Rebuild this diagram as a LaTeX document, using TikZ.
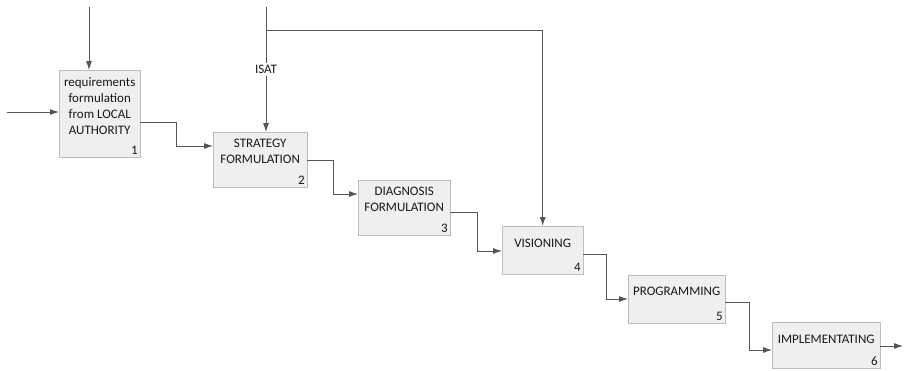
\documentclass[tikz,border=0pt]{standalone}
\usepackage{fontspec}
\setmainfont{Carlito}
\usetikzlibrary{arrows.meta}
\definecolor{boxfill}{HTML}{EFEFEF}
\definecolor{boxline}{HTML}{BDBDBD}
\definecolor{wire}{HTML}{555555}

\begin{document}
\begin{tikzpicture}[x=1pt,y=-1pt,>={Latex[length=9pt,width=6pt]},
  stage/.style={draw=boxline, fill=boxfill, anchor=north west, inner sep=0pt},
  caption/.style={align=center, text=black!90, font=\fontsize{13}{16}\selectfont},
  num/.style={anchor=south east, inner sep=2.5pt, text=black!90, font=\fontsize{13}{14}\selectfont},
  flow/.style={->, draw=wire, line width=0.8pt}]
  \useasboundingbox (0,0) rectangle (905,370);

  % the six stages
  \node[stage, minimum width=81, minimum height=87] (s1) at (59,70) {};
  \node[stage, minimum width=94, minimum height=55] (s2) at (213,132) {};
  \node[stage, minimum width=92, minimum height=55] (s3) at (358,180) {};
  \node[stage, minimum width=81, minimum height=48] (s4) at (502,226) {};
  \node[stage, minimum width=97, minimum height=48] (s5) at (628,275) {};
  \node[stage, minimum width=108, minimum height=46] (s6) at (772,322) {};

  \node[caption] (t1) at ([yshift=8pt]s1.center) {requirements\\formulation\\from LOCAL\\AUTHORITY};
  \node[caption] (t2) at ([yshift=8pt]s2.center) {STRATEGY\\FORMULATION};
  \node[caption] (t3) at ([yshift=8pt]s3.center) {DIAGNOSIS\\FORMULATION};
  \node[caption] (t4) at ([yshift=7pt]s4.center) {VISIONING};
  \node[caption] (t5) at ([yshift=8pt]s5.center) {PROGRAMMING};
  \node[caption] (t6) at ([yshift=6pt]s6.center) {IMPLEMENTATING};

  \node[num] (n1) at (s1.south east) {1};
  \node[num] (n2) at (s2.south east) {2};
  \node[num] (n3) at (s3.south east) {3};
  \node[num] (n4) at (s4.south east) {4};
  \node[num] (n5) at (s5.south east) {5};
  \node[num] (n6) at (s6.south east) {6};

  % free ends
  \coordinate (input) at (7,112);
  \coordinate (control) at (89,7);
  \coordinate (isat) at (266,7);
  \coordinate (output) at (903,346);

  \draw[flow] (input) -- (s1.west |- input);
  \draw[flow] (control) -- (control |- s1.north);
  \draw[flow] (isat) -- node[midway, fill=white, inner sep=2pt, caption] (isatlabel) {ISAT} (isat |- s2.north);
  \draw[flow] (isat |- 0,30) -| (s4.north);

  % stage to stage
  \draw[flow] (s1.east |- 0,122) -- ++(36,0) |- (s2.west |- 0,146);
  \draw[flow] (s2.east |- 0,160) -- ++(26,0) |- (s3.west |- 0,194);
  \draw[flow] (s3.east |- 0,212) -- ++(27,0) |- (s4.west |- 0,251);
  \draw[flow] (s4.east |- 0,254) -- ++(23,0) |- (s5.west |- 0,299);
  \draw[flow] (s5.east |- 0,302) -- ++(24,0) |- (s6.west |- 0,350);
  \draw[flow] (s6.east |- output) -- (output);
\end{tikzpicture}
\end{document}
